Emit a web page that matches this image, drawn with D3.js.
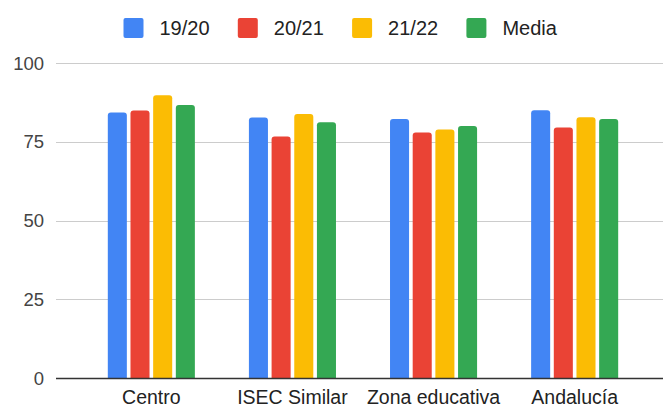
<!DOCTYPE html>
<html>
<head>
<meta charset="utf-8">
<script src="https://cdn.jsdelivr.net/npm/d3@7"></script>
<style>
  body { margin: 0; background: #fff; }
  svg { display: block; font-family: "Liberation Sans", Arial, sans-serif; }
</style>
</head>
<body>
<div id="chart"></div>
<script>
// Data
const categories = ["Centro", "ISEC Similar", "Zona educativa", "Andalucía"];
const seriesNames = ["19/20", "20/21", "21/22", "Media"];
const s1920 = [84.3, 82.7, 82.2, 85.0];
const s2021 = [84.9, 76.7, 77.9, 79.5];
const s2122 = [89.8, 83.8, 78.9, 82.8];
const sMedia = [86.7, 81.2, 80.0, 82.2];
const yTicks = [0, 25, 50, 75, 100];
const colors = ["#4285f4", "#ea4335", "#fbbc04", "#34a853"];

const seriesValues = [s1920, s2021, s2122, sMedia];
const data = categories.map((c, i) => ({
  category: c,
  values: seriesNames.map((s, j) => ({ series: s, value: seriesValues[j][i] }))
}));

const width = 663, height = 405;
const plot = { left: 56, right: 663, top: 63, bottom: 378 };

const svg = d3.select("#chart").append("svg")
  .attr("width", width)
  .attr("height", height);

// Scales
const y = d3.scaleLinear().domain([0, 100]).range([plot.bottom, plot.top]);
const x0 = d3.scaleBand().domain(categories).range([81, 645])
  .paddingInner(0.383).paddingOuter(0.19);
const x1 = d3.scaleBand().domain(seriesNames).range([0, x0.bandwidth()])
  .paddingInner(0.16).paddingOuter(0);
const color = d3.scaleOrdinal().domain(seriesNames).range(colors);

// Gridlines
svg.append("g")
  .selectAll("line")
  .data(yTicks.filter(t => t !== 0))
  .enter().append("line")
  .attr("x1", plot.left)
  .attr("x2", plot.right)
  .attr("y1", d => Math.round(y(d)) + 0.5)
  .attr("y2", d => Math.round(y(d)) + 0.5)
  .attr("stroke", "#cccccc")
  .attr("stroke-width", 1);

// Y tick labels
svg.append("g")
  .selectAll("text")
  .data(yTicks)
  .enter().append("text")
  .attr("x", 44)
  .attr("y", d => y(d) + 6.5)
  .attr("text-anchor", "end")
  .attr("fill", "#444")
  .style("font-size", "18.5px")
  .text(d => d);

// Bars with rounded top corners
function barPath(x, yTop, w, yBase, r) {
  r = Math.min(r, (yBase - yTop) / 2, w / 2);
  return `M${x},${yBase}V${yTop + r}Q${x},${yTop} ${x + r},${yTop}` +
    `H${x + w - r}Q${x + w},${yTop} ${x + w},${yTop + r}V${yBase}Z`;
}

const groups = svg.append("g")
  .selectAll("g")
  .data(data)
  .enter().append("g")
  .attr("transform", d => `translate(${x0(d.category)},0)`);

groups.selectAll("path")
  .data(d => d.values)
  .enter().append("path")
  .attr("d", d => barPath(x1(d.series), y(d.value), x1.bandwidth(), y(0), 3))
  .attr("fill", d => color(d.series));

// Baseline
svg.append("line")
  .attr("x1", plot.left)
  .attr("x2", plot.right)
  .attr("y1", Math.round(y(0)) + 0.5)
  .attr("y2", Math.round(y(0)) + 0.5)
  .attr("stroke", "#333")
  .attr("stroke-width", 1.5);

// X labels
svg.append("g")
  .selectAll("text")
  .data(categories)
  .enter().append("text")
  .attr("x", d => x0(d) + x0.bandwidth() / 2)
  .attr("y", 404)
  .attr("text-anchor", "middle")
  .attr("fill", "#222")
  .style("font-size", "19.5px")
  .text(d => d);

// Legend
const legend = svg.append("g")
  .selectAll("g")
  .data(seriesNames)
  .enter().append("g")
  .attr("transform", (d, i) => `translate(${123.5 + i * 114.3},18)`);

legend.append("rect")
  .attr("width", 20)
  .attr("height", 20)
  .attr("rx", 2)
  .attr("fill", d => color(d));

legend.append("text")
  .attr("x", 36)
  .attr("y", 17)
  .attr("fill", "#222")
  .style("font-size", "20px")
  .text(d => d);
</script>
</body>
</html>
